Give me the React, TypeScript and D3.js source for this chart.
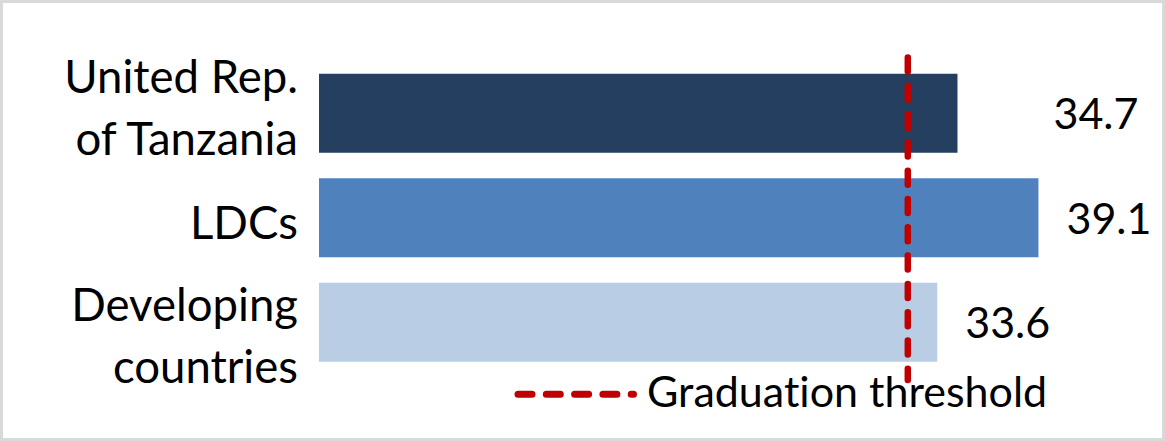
import { useEffect, useRef } from 'react'
import * as d3 from 'd3'

const W = 1165
const H = 441

// categories, split into display lines
const categories = ['United Rep. of Tanzania', 'LDCs', 'Developing countries']
const categoryLines = [['United Rep.', 'of Tanzania'], ['LDCs'], ['Developing', 'countries']]
const values = [34.7, 39.1, 33.6]
const barColors = ['#253f61', '#4f81bd', '#b9cde5']
const threshold = 32
const legendLabel = 'Graduation threshold'

const FONT = 'Lato, "Open Sans", sans-serif'

export default function App() {
  const svgRef = useRef<SVGSVGElement>(null)

  useEffect(() => {
    if (!svgRef.current) return
    const svg = d3.select(svgRef.current)
    svg.selectAll('*').remove()

    svg.append('rect').attr('width', W).attr('height', H).attr('fill', '#fff')
    svg.append('rect')
      .attr('x', 1.5).attr('y', 1.5).attr('width', W - 3).attr('height', H - 3)
      .attr('fill', 'none').attr('stroke', '#d9d9d9').attr('stroke-width', 3)

    const x = d3.scaleLinear().domain([0, 40]).range([319, 1055])
    const y = d3.scaleBand<string>()
      .domain(categories)
      .range([61, 374.5])
      .paddingInner(0.244)
      .paddingOuter(0.122)

    const g = svg.append('g')
      .style('font-variant-ligatures', 'none')
      .style('font-feature-settings', '"liga" 0')

    // bars
    g.append('g')
      .selectAll('rect')
      .data(values)
      .join('rect')
      .attr('x', x(0))
      .attr('y', (_, i) => y(categories[i])!)
      .attr('width', (d) => x(d) - x(0))
      .attr('height', y.bandwidth())
      .attr('fill', (_, i) => barColors[i])

    // category labels; the wrapped labels sit a little differently in the original
    const lineH = 62
    const firstBaseline = [-20.5, 21, -1]
    g.append('g')
      .selectAll('text')
      .data(categoryLines)
      .join('text')
      .attr('text-anchor', 'end')
      .attr('font-family', FONT)
      .attr('font-size', 45.5)
      .attr('fill', '#000')
      .each(function (lines, i) {
        const cy = y(categories[i])! + y.bandwidth() / 2
        const top = cy + firstBaseline[i]
        d3.select(this)
          .selectAll('tspan')
          .data(lines)
          .join('tspan')
          .attr('x', 298)
          .attr('y', (_, j) => top + j * lineH)
          .text((d) => d)
      })

    // value labels (first one sits further out, clear of the threshold)
    g.append('g')
      .selectAll('text')
      .data(values)
      .join('text')
      .attr('x', (d, i) => x(d) + (i === 0 ? 96 : 28))
      .attr('y', (_, i) => y(categories[i])! + y.bandwidth() / 2 + 16)
      .attr('font-family', FONT)
      .attr('font-size', 43)
      .attr('fill', '#000')
      .text((d) => d.toFixed(1))

    // threshold line
    g.append('line')
      .attr('x1', x(threshold)).attr('x2', x(threshold))
      .attr('y1', 57.5).attr('y2', 380)
      .attr('stroke', '#c00000')
      .attr('stroke-width', 6.5)
      .attr('stroke-linecap', 'round')
      .attr('stroke-dasharray', '14 14.3')

    // legend
    g.append('line')
      .attr('x1', 518).attr('x2', 633.5)
      .attr('y1', 394.3).attr('y2', 394.3)
      .attr('stroke', '#c00000')
      .attr('stroke-width', 7)
      .attr('stroke-linecap', 'round')
      .attr('stroke-dasharray', '14 14.3')
    g.append('text')
      .attr('x', 647)
      .attr('y', 406.5)
      .attr('font-family', FONT)
      .attr('font-size', 43)
      .attr('fill', '#000')
      .text(legendLabel)
  }, [])

  return (
    <div style={{ position: 'absolute', left: 0, top: 0 }}>
      <svg ref={svgRef} width={W} height={H} style={{ display: 'block' }} />
    </div>
  )
}
